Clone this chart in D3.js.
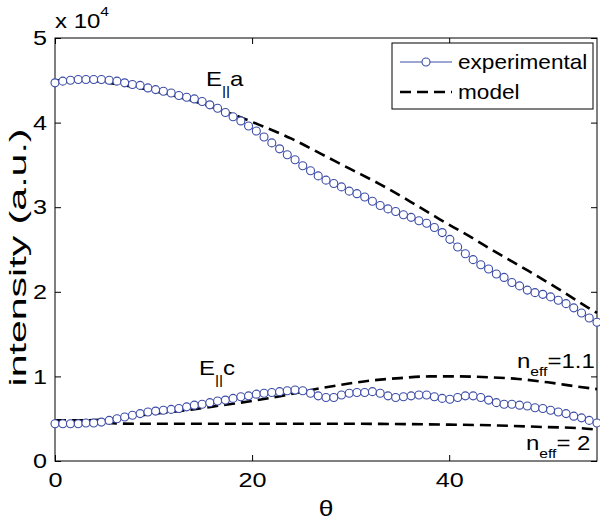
<!DOCTYPE html>
<html><head><meta charset="utf-8">
<script src="https://cdn.jsdelivr.net/npm/d3@7"></script>
<style>body{margin:0;background:#fff}svg text{font-family:"Liberation Sans",Arial,sans-serif;fill:#000}</style>
</head><body>
<svg id="c" width="600" height="520"></svg>
<script>
// intensity values are in units of 10^4
const thetaExp = [0,0.79,1.57,2.36,3.14,3.93,4.71,5.5,6.29,7.07,7.86,8.64,9.43,10.21,11,11.79,12.57,13.36,14.14,14.93,15.71,16.5,17.29,18.07,18.86,19.64,20.43,21.21,22,22.79,23.57,24.36,25.14,25.93,26.71,27.5,28.29,29.07,29.86,30.64,31.43,32.21,33,33.79,34.57,35.36,36.14,36.93,37.71,38.5,39.29,40.07,40.86,41.64,42.43,43.21,44,44.79,45.57,46.36,47.14,47.93,48.71,49.5,50.29,51.07,51.86,52.64,53.43,54.21,55];
const expA = [4.47,4.49,4.50,4.51,4.51,4.51,4.51,4.50,4.49,4.47,4.45,4.44,4.41,4.39,4.37,4.35,4.32,4.30,4.28,4.25,4.21,4.17,4.12,4.07,4.02,3.96,3.90,3.83,3.76,3.69,3.62,3.56,3.49,3.43,3.37,3.32,3.28,3.24,3.19,3.16,3.12,3.07,3.02,2.98,2.95,2.91,2.88,2.84,2.81,2.76,2.70,2.62,2.53,2.45,2.38,2.32,2.27,2.21,2.17,2.11,2.07,2.02,1.99,1.97,1.94,1.90,1.86,1.81,1.75,1.69,1.64];
const expC = [0.44,0.44,0.44,0.44,0.45,0.45,0.46,0.48,0.50,0.52,0.54,0.56,0.58,0.59,0.60,0.61,0.62,0.64,0.66,0.67,0.69,0.71,0.72,0.74,0.76,0.77,0.79,0.80,0.81,0.82,0.83,0.84,0.83,0.80,0.77,0.75,0.75,0.78,0.80,0.81,0.81,0.82,0.80,0.77,0.75,0.76,0.77,0.78,0.78,0.76,0.74,0.73,0.75,0.77,0.77,0.75,0.72,0.69,0.67,0.67,0.66,0.65,0.63,0.62,0.60,0.58,0.56,0.53,0.51,0.48,0.45];
const thetaModA = [0,3,6,9,12,15,18,21,24,27,30,33,36,39,42,45,48,51,54,55];
const modelA = [4.50,4.50,4.46,4.40,4.32,4.22,4.10,3.96,3.81,3.63,3.45,3.27,3.07,2.86,2.66,2.45,2.25,2.04,1.82,1.75];
const thetaModC1 = [0,3,5,8,11,14,17,20,23,26,29,32,35,38,41,44,47,50,53,55];
const modelC1 = [0.48,0.48,0.49,0.53,0.57,0.61,0.66,0.71,0.77,0.84,0.90,0.95,0.98,1.00,1.00,0.99,0.97,0.93,0.88,0.85];
const thetaModC2 = [0,3,5,8,12,20,30,40,45,50,53,55];
const modelC2 = [0.48,0.47,0.45,0.44,0.44,0.44,0.44,0.43,0.42,0.40,0.39,0.37];
const xTicks = [0,20,40];
const yTicks = [0,1,2,3,4,5];
const legendLabels = ["experimental","model"];

const svg = d3.select("#c");
const L=55,R=597,T=38,B=461;
const SX = 1.2; // horizontal stretch of the lettering
const x = d3.scaleLinear().domain([0,55]).range([L,R]);
const y = d3.scaleLinear().domain([0,5]).range([B,T]);
const blue = "#3c4ca6";

// axes
const ax = svg.append("g").attr("transform",`translate(0,${B})`)
  .call(d3.axisBottom(x).tickValues(xTicks).tickSizeInner(-6).tickSizeOuter(0).tickPadding(11).tickFormat(d3.format("d")));
const ay = svg.append("g").attr("transform",`translate(${L},0)`)
  .call(d3.axisLeft(y).tickValues(yTicks).tickSizeInner(-6).tickSizeOuter(0).tickPadding(8).tickFormat(d3.format("d")));
const axT = svg.append("g").attr("transform",`translate(0,${T})`)
  .call(d3.axisTop(x).tickValues(xTicks).tickSizeInner(-6).tickSizeOuter(0).tickFormat(""));
const ayR = svg.append("g").attr("transform",`translate(${R},0)`)
  .call(d3.axisRight(y).tickValues(yTicks).tickSizeInner(-6).tickSizeOuter(0).tickFormat(""));
[ax,ay,axT,ayR].forEach(g=>{g.select(".domain").remove();g.selectAll("line").attr("stroke","#000");
  g.selectAll("text").style("font-size","21px").attr("fill","#000");});
ax.selectAll("text").attr("transform",`scale(${SX},1)`);
ay.selectAll("text").attr("x",-8/SX).attr("transform",`scale(${SX},1)`);
svg.append("rect").attr("x",L).attr("y",T).attr("width",R-L).attr("height",B-T)
  .attr("fill","none").attr("stroke","#000").attr("stroke-width",1);

const gPlot = svg.append("g");
const lineExp = d3.line().x(d=>x(d[0])).y(d=>y(d[1]));
const lineMod = d3.line().x(d=>x(d[0])).y(d=>y(d[1])).curve(d3.curveMonotoneX);

function model(xs,ys){
  gPlot.append("path").datum(xs.map((t,i)=>[t,ys[i]])).attr("d",lineMod)
    .attr("fill","none").attr("stroke","#000").attr("stroke-width",2.6).attr("stroke-dasharray","11,6");
}
function exp(xs,ys){
  const data = xs.map((t,i)=>[t,ys[i]]);
  gPlot.append("path").datum(data).attr("d",lineExp).attr("fill","none").attr("stroke",blue).attr("stroke-width",1);
  gPlot.append("g").selectAll("circle").data(data).join("circle")
    .attr("cx",d=>x(d[0])).attr("cy",d=>y(d[1])).attr("r",4)
    .attr("fill","#fff").attr("stroke",blue).attr("stroke-width",1.1);
}
model(thetaModA,modelA);
model(thetaModC1,modelC1);
model(thetaModC2,modelC2);
exp(thetaExp,expA);
exp(thetaExp,expC);

function stretched(px,py,size){
  return svg.append("text").attr("transform",`translate(${px},${py}) scale(${SX},1)`).style("font-size",size+"px");
}
// multiplier
const mt = stretched(55,28,20);
mt.append("tspan").text("x 10");
mt.append("tspan").attr("dy",-12).style("font-size","13px").text("4");

// axis labels
stretched((L+R)/2,516,22).attr("text-anchor","middle").text("θ");
svg.append("text").attr("transform",`translate(26,${(T+B)/2+8}) rotate(-90)`).attr("text-anchor","middle")
  .style("font-size","24px").attr("textLength",258).attr("lengthAdjust","spacingAndGlyphs").text("intensity (a.u.)");

// annotations
function elabel(px,py,letter){
  const t = stretched(px,py,20);
  t.append("tspan").text("E");
  t.append("tspan").attr("dy",9).style("font-size","13px").text("||");
  t.append("tspan").attr("dy",-9).text(letter);
}
elabel(206,86,"a");
elabel(199,375,"c");
function nlabel(px,py,rest){
  const t = stretched(px,py,20);
  t.append("tspan").text("n");
  t.append("tspan").attr("dy",8).style("font-size","13px").text("eff");
  t.append("tspan").attr("dy",-8).text(rest);
}
nlabel(517,368,"=1.1");
nlabel(526,450,"= 2");

// legend
const lg = svg.append("g");
lg.append("rect").attr("x",392).attr("y",43).attr("width",201).attr("height",66)
  .attr("fill","#fff").attr("stroke","#000").attr("stroke-width",1);
lg.append("line").attr("x1",400).attr("x2",452).attr("y1",62).attr("y2",62).attr("stroke",blue).attr("stroke-width",1);
lg.append("circle").attr("cx",426).attr("cy",62).attr("r",4).attr("fill","#fff").attr("stroke",blue).attr("stroke-width",1.1);
lg.append("line").attr("x1",400).attr("x2",452).attr("y1",92).attr("y2",92).attr("stroke","#000").attr("stroke-width",2.6).attr("stroke-dasharray","11,6");
lg.selectAll("text.lab").data(legendLabels).join("text").attr("class","lab")
  .attr("transform",(d,i)=>`translate(458,${69+i*30}) scale(1.13,1)`).style("font-size","20px").text(d=>d);
</script>
</body></html>
